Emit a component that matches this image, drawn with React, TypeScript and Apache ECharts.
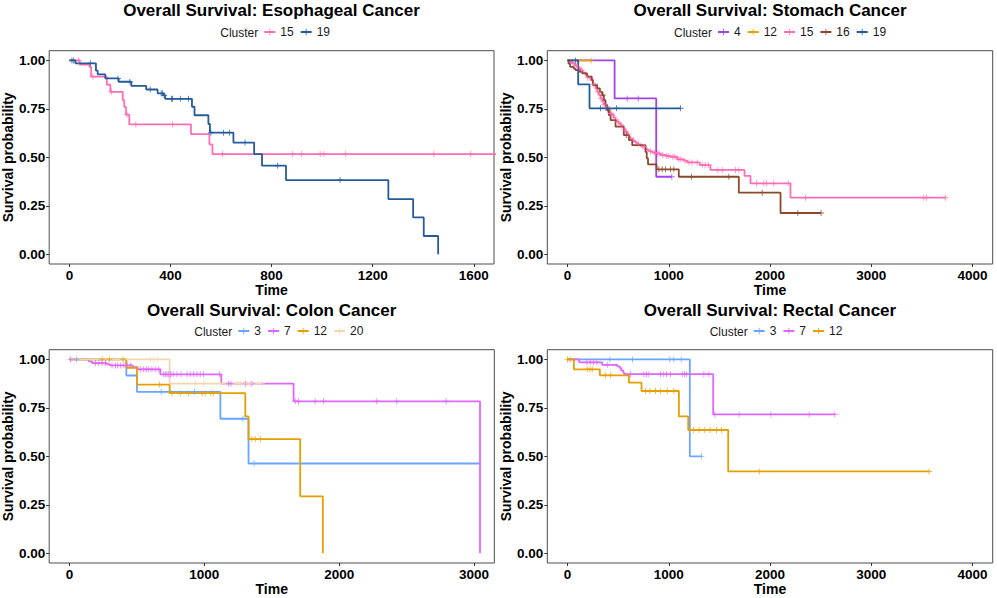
import React, { useEffect, useRef } from 'react';
import * as echarts from 'echarts';

type Pt = [number, number];

// ---------- Esophageal ----------
const esoph15Events: Pt[] = [[41, 0.978], [80, 0.966], [86, 0.916], [148, 0.875], [162, 0.838], [211, 0.795], [217, 0.76], [224, 0.72], [237, 0.67], [481, 0.62], [554, 0.567], [566, 0.517]];
const esoph15Censors = [37, 93, 166, 228, 263, 408, 606, 882, 919, 992, 1007, 1093, 1442, 1588];
const esoph15End = 1720;
const esoph19Events: Pt[] = [[24, 0.985], [105, 0.947], [112, 0.928], [142, 0.907], [195, 0.89], [245, 0.869], [304, 0.85], [349, 0.83], [373, 0.82], [379, 0.802], [485, 0.761], [495, 0.717], [550, 0.672], [556, 0.627], [649, 0.576], [731, 0.517], [762, 0.457], [857, 0.383], [1262, 0.285], [1360, 0.19], [1402, 0.0945], [1459, 0]];
const esoph19Censors = [10, 17, 83, 192, 239, 320, 363, 368, 375, 404, 408, 439, 471, 560, 610, 633, 695, 824, 1071];

// ---------- Stomach ----------
const stom4Events: Pt[] = [[465, 0.804], [876, 0.4]];
const stom4Censors = [589, 698, 1030];
const stom12Events: Pt[] = [];
const stom12Censors = [232];
const stom15Events: Pt[] = [[20, 0.993], [46, 0.985], [70, 0.975], [90, 0.967], [112, 0.959], [128, 0.95], [150, 0.937], [178, 0.924], [200, 0.911], [227, 0.898], [250, 0.877], [277, 0.855], [295, 0.838], [309, 0.821], [325, 0.804], [342, 0.787], [358, 0.774], [375, 0.761], [392, 0.748], [408, 0.735], [425, 0.726], [441, 0.718], [458, 0.705], [474, 0.692], [490, 0.683], [507, 0.675], [523, 0.667], [540, 0.658], [556, 0.645], [573, 0.632], [590, 0.619], [606, 0.606], [622, 0.597], [639, 0.589], [655, 0.583], [672, 0.577], [688, 0.57], [704, 0.563], [737, 0.555], [770, 0.543], [787, 0.538], [803, 0.532], [836, 0.525], [870, 0.52], [919, 0.512], [970, 0.507], [1017, 0.503], [1083, 0.49], [1149, 0.483], [1182, 0.474], [1306, 0.46], [1412, 0.435], [1748, 0.404], [1807, 0.366], [2202, 0.292]];
const stom15Censors = [60, 100, 140, 200, 260, 300, 330, 360, 390, 430, 460, 500, 530, 560, 600, 650, 700, 745, 760, 820, 860, 890, 905, 940, 980, 1000, 1040, 1060, 1100, 1120, 1160, 1200, 1230, 1280, 1330, 1360, 1390, 1485, 1528, 1659, 1692, 1867, 1939, 1965, 2037, 2180, 2351, 3519, 3546, 3733];
const stom16Events: Pt[] = [[10, 0.983], [26, 0.967], [60, 0.958], [79, 0.95], [120, 0.941], [145, 0.933], [194, 0.916], [240, 0.9], [250, 0.873], [293, 0.856], [320, 0.838], [342, 0.821], [359, 0.795], [375, 0.77], [392, 0.744], [408, 0.718], [425, 0.692], [474, 0.658], [556, 0.615], [606, 0.589], [639, 0.563], [770, 0.528], [782, 0.495], [795, 0.464], [879, 0.438], [1099, 0.4], [1692, 0.318], [2104, 0.213]];
const stom16Censors = [350, 400, 580, 902, 935, 968, 1017, 1050, 1225, 1593, 1923, 2275, 2505];
const stom19Events: Pt[] = [[105, 0.876], [217, 0.753]];
const stom19Censors = [79, 326, 392, 484, 1116];

// ---------- Colon ----------
const colon3Events: Pt[] = [[422, 0.917], [501, 0.833], [1119, 0.694], [1328, 0.463]];
const colon3Censors = [52, 681, 928, 1286, 1370];
const colon3End = 3044;
const colon7Events: Pt[] = [[143, 0.99], [168, 0.981], [279, 0.974], [304, 0.969], [470, 0.96], [506, 0.949], [674, 0.923], [1126, 0.875], [1662, 0.784], [3044, 0]];
const colon7Censors = [8, 193, 217, 242, 267, 316, 341, 358, 378, 403, 427, 452, 526, 551, 570, 588, 612, 637, 662, 699, 711, 723, 736, 748, 753, 773, 798, 827, 872, 896, 921, 946, 970, 995, 1114, 1180, 1198, 1304, 1353, 1674, 1699, 1822, 1884, 2279, 2427, 2793];
const colon12Events: Pt[] = [[422, 0.957], [501, 0.87], [743, 0.826], [1304, 0.706], [1328, 0.589], [1711, 0.294], [1879, 0]];
const colon12Censors = [242, 296, 398, 669, 760, 822, 884, 983, 1007, 1049, 1069, 1353, 1378, 1415];
const colon20Events: Pt[] = [[743, 0.875]];
const colon20Censors = [600, 625, 652, 933, 995, 1119, 1242, 1267, 1316, 1341, 1427];

// ---------- Rectal ----------
const rect3Events: Pt[] = [[1208, 0.5]];
const rect3Censors = [418, 642, 1010, 1050, 1123, 1323];
const rect7Events: Pt[] = [[115, 0.985], [342, 0.972], [491, 0.964], [517, 0.955], [530, 0.943], [550, 0.931], [563, 0.924], [1439, 0.716]];
const rect7Censors = [191, 224, 257, 290, 392, 622, 754, 780, 803, 919, 945, 978, 1017, 1133, 1156, 1175, 1346, 1396, 1455, 1695, 2008, 2387, 2640];
const rect12Events: Pt[] = [[63, 0.949], [319, 0.918], [606, 0.88], [731, 0.837], [1100, 0.706], [1192, 0.636], [1587, 0.422]];
const rect12Censors = [0, 26, 194, 221, 244, 375, 424, 770, 813, 869, 919, 985, 1050, 1244, 1300, 1356, 1409, 1472, 1521, 1893, 3572];

// ---------- Labels / ticks ----------
const panelTitles = ['Overall Survival: Esophageal Cancer', 'Overall Survival: Stomach Cancer', 'Overall Survival: Colon Cancer', 'Overall Survival: Rectal Cancer'];
const xTicks1 = [0, 400, 800, 1200, 1600];
const xTicks2 = [0, 1000, 2000, 3000, 4000];
const xTicks3 = [0, 1000, 2000, 3000];
const xTicks4 = [0, 1000, 2000, 3000, 4000];
const yTicks = [0, 0.25, 0.5, 0.75, 1];

const COLORS: Record<string, string> = {
  '3': '#6AA5FF',
  '4': '#A044E8',
  '7': '#E066FF',
  '12': '#E69F00',
  '15': '#FF6EB4',
  '16': '#8B4A2B',
  '19': '#245B9A',
  '20': '#F2D6B0',
};

const FONT = '"Liberation Sans", Arial, Helvetica, sans-serif';
const PLUS = 'path://M0,3.4H3.4V0H4.6V3.4H8V4.6H4.6V8H3.4V4.6H0Z';

function buildData(events: Pt[], censors: number[], end?: number) {
  const lookup = (t: number) => {
    let s = 1;
    for (const [et, es] of events) if (et <= t) s = es;
    return s;
  };
  const items: { t: number; s: number; c: boolean; o: number }[] = [{ t: 0, s: 1, c: false, o: 0 }];
  events.forEach(([t, s]) => items.push({ t, s, c: false, o: 1 }));
  censors.forEach((t) => items.push({ t, s: lookup(t), c: true, o: 2 }));
  items.sort((a, b) => a.t - b.t || a.o - b.o);
  if (end !== undefined) items.push({ t: end, s: lookup(end), c: false, o: 3 });
  return items.map((it) => (it.c ? { value: [it.t, it.s] } : { value: [it.t, it.s], symbol: 'none' }));
}

type Curve = { cluster: string; events: Pt[]; censors: number[]; end?: number };

const panels: Curve[][] = [
  [
    { cluster: '15', events: esoph15Events, censors: esoph15Censors, end: esoph15End },
    { cluster: '19', events: esoph19Events, censors: esoph19Censors },
  ],
  [
    { cluster: '4', events: stom4Events, censors: stom4Censors },
    { cluster: '12', events: stom12Events, censors: stom12Censors },
    { cluster: '15', events: stom15Events, censors: stom15Censors },
    { cluster: '16', events: stom16Events, censors: stom16Censors },
    { cluster: '19', events: stom19Events, censors: stom19Censors },
  ],
  [
    { cluster: '3', events: colon3Events, censors: colon3Censors, end: colon3End },
    { cluster: '7', events: colon7Events, censors: colon7Censors },
    { cluster: '12', events: colon12Events, censors: colon12Censors },
    { cluster: '20', events: colon20Events, censors: colon20Censors },
  ],
  [
    { cluster: '3', events: rect3Events, censors: rect3Censors },
    { cluster: '7', events: rect7Events, censors: rect7Censors },
    { cluster: '12', events: rect12Events, censors: rect12Censors },
  ],
];

const grids = [
  { left: 49, top: 50.7, width: 445, height: 213.3 },
  { left: 547.3, top: 50.7, width: 445.4, height: 213.3 },
  { left: 49, top: 349.7, width: 445.3, height: 213.3 },
  { left: 547.3, top: 349.7, width: 445.4, height: 213.3 },
];
const xRanges: [number, number][] = [[-80, 1680], [-200, 4200], [-150, 3150], [-200, 4200]];
const xTickSets = [xTicks1, xTicks2, xTicks3, xTicks4];
const titleY = [10.8, 10.8, 310, 310];
const legendLeft = [263.3, 717, 237.3, 752.7];
const legendTop = [26, 26, 325, 325];

export default function App() {
  const ref = useRef<HTMLDivElement>(null);
  useEffect(() => {
    if (!ref.current) return;
    const chart = echarts.init(ref.current, undefined, { renderer: 'svg' });

    const series: any[] = [];
    const legends: any[] = [];
    panels.forEach((curves, pi) => {
      const names: string[] = [];
      curves.forEach((cv) => {
        const name = `p${pi}|${cv.cluster}`;
        names.push(name);
        const color = COLORS[cv.cluster];
        series.push({
          type: 'line',
          name,
          xAxisIndex: pi,
          yAxisIndex: pi,
          step: 'end',
          data: buildData(cv.events, cv.censors, cv.end),
          symbol: PLUS,
          symbolSize: 6,
          showSymbol: true,
          showAllSymbol: true,
          lineStyle: { color, width: 1.8 },
          itemStyle: { color, opacity: 0.8 },
          emphasis: { disabled: true },
          silent: true,
          clip: true,
        });
      });
      legends.push({
        data: names,
        left: legendLeft[pi],
        top: legendTop[pi],
        orient: 'horizontal',
        padding: 0,
        itemWidth: 11,
        itemHeight: 8,
        itemGap: 6,
        selectedMode: false,
        formatter: (n: string) => n.split('|')[1],
        textStyle: { fontSize: 12, color: '#1a1a1a', fontFamily: FONT },
      });
    });

    const graphics: any[] = [];
    grids.forEach((g, i) => {
      graphics.push({
        type: 'text',
        x: g.left + g.width / 2,
        y: titleY[i],
        style: {
          text: panelTitles[i],
          fill: '#000',
          fontSize: 17,
          fontWeight: 'bold',
          fontFamily: FONT,
          align: 'center',
          verticalAlign: 'middle',
        },
      });
      graphics.push({
        type: 'text',
        x: legendLeft[i] - 5,
        y: legendTop[i] + 7,
        style: {
          text: 'Cluster',
          fill: '#1a1a1a',
          fontSize: 12,
          fontFamily: FONT,
          align: 'right',
          verticalAlign: 'middle',
        },
      });
    });

    const labelStyle = { color: '#000', fontWeight: 'bold', fontSize: 13.5, fontFamily: FONT };
    const nameStyle = { color: '#000', fontWeight: 'bold', fontSize: 14, fontFamily: FONT };

    chart.setOption({
      animation: false,
      grid: grids.map((g) => ({ ...g, show: true, borderColor: '#4d4d4d', borderWidth: 1, backgroundColor: 'transparent' })),
      xAxis: grids.map((_, i) => ({
        type: 'value',
        gridIndex: i,
        min: xRanges[i][0],
        max: xRanges[i][1],
        axisLine: { show: false, onZero: false },
        axisTick: { show: true, length: 3, lineStyle: { color: '#333' }, customValues: xTickSets[i] },
        axisLabel: { ...labelStyle, margin: 4, customValues: xTickSets[i], formatter: (v: number) => String(v) },
        splitLine: { show: false },
        name: 'Time',
        nameLocation: 'middle',
        nameGap: 17,
        nameTextStyle: nameStyle,
      })),
      yAxis: grids.map((_, i) => ({
        type: 'value',
        gridIndex: i,
        min: -0.05,
        max: 1.05,
        axisLine: { show: false, onZero: false },
        axisTick: { show: true, length: 3, lineStyle: { color: '#333' }, customValues: yTicks },
        axisLabel: { ...labelStyle, margin: 4, customValues: yTicks, formatter: (v: number) => v.toFixed(2) },
        splitLine: { show: false },
        name: 'Survival probability',
        nameLocation: 'middle',
        nameRotate: 90,
        nameGap: 33,
        nameTextStyle: nameStyle,
      })),
      legend: legends,
      graphic: graphics,
      series,
    });

    return () => chart.dispose();
  }, []);

  return <div ref={ref} style={{ position: 'absolute', left: 0, top: 0, width: 997, height: 598, background: '#fff' }} />;
}
